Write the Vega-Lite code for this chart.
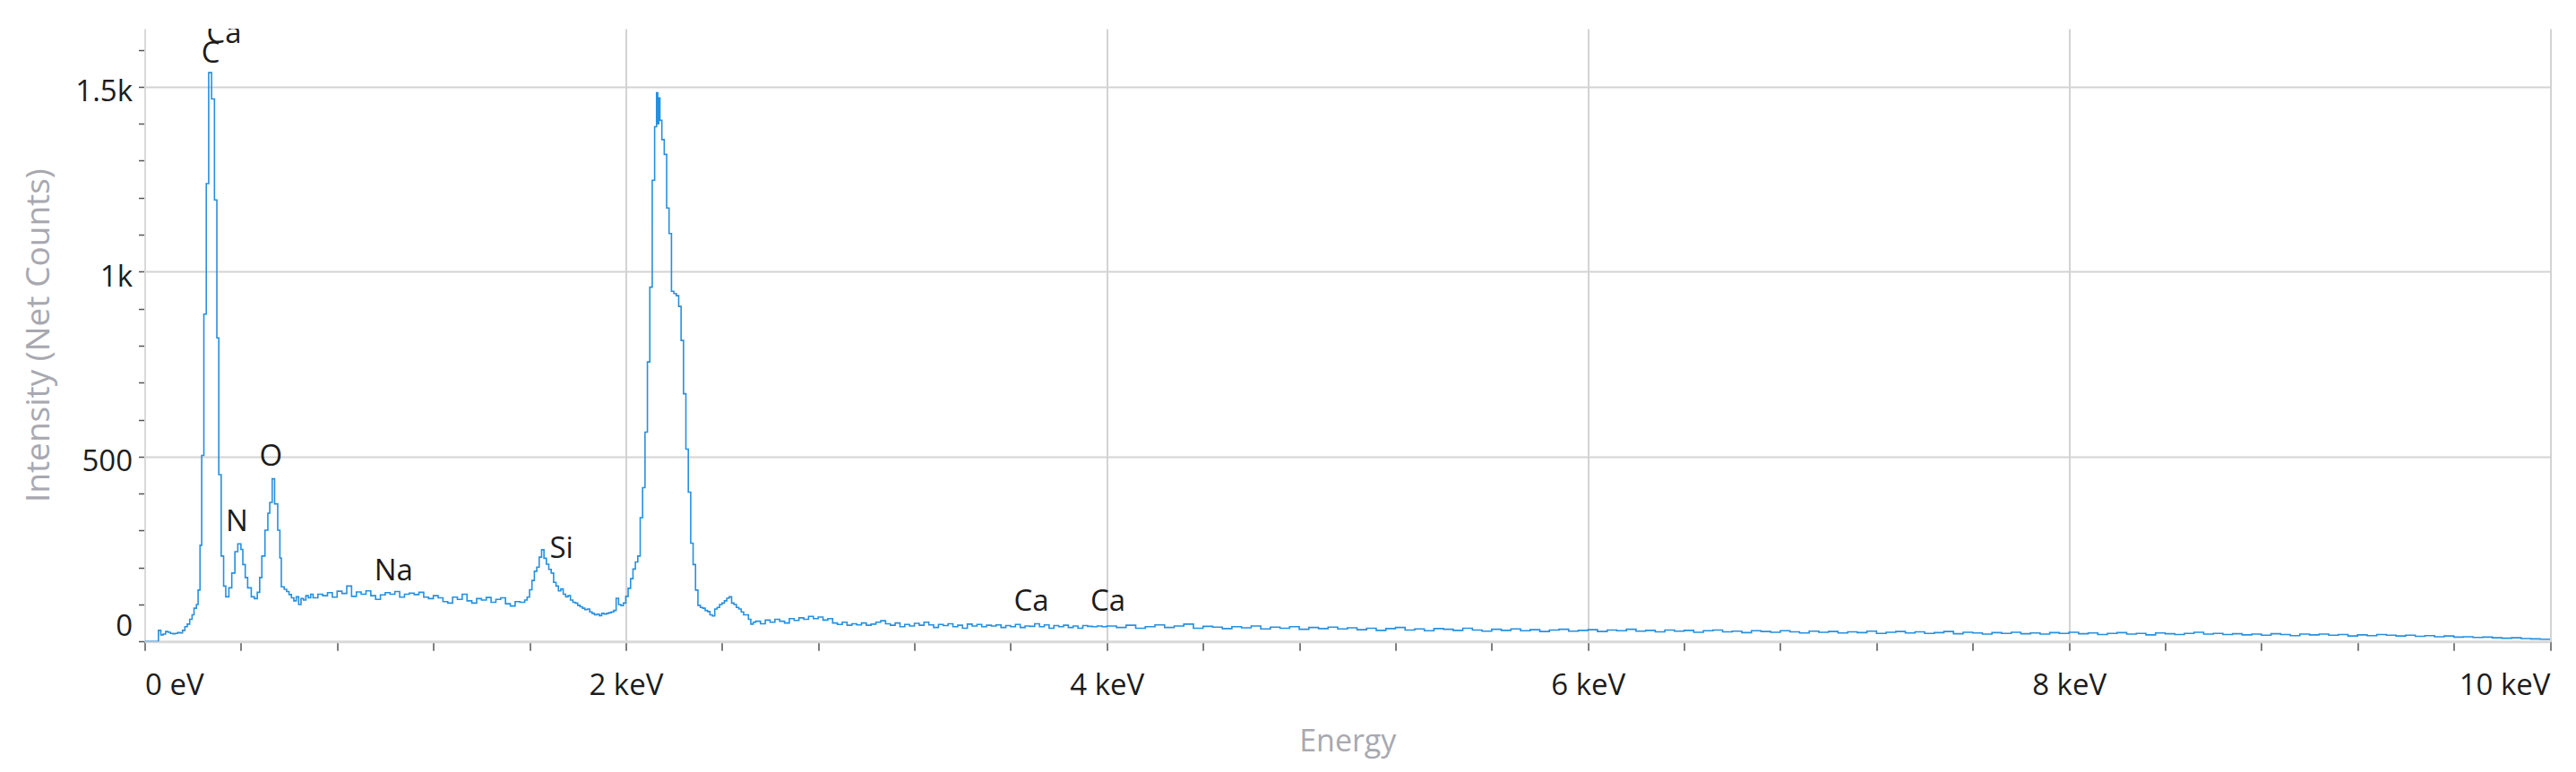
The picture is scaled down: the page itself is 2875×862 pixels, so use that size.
{
  "$schema": "https://vega.github.io/schema/vega-lite/v6.json",
  "width": 2684.5,
  "height": 684.3,
  "autosize": {"type": "none"},
  "padding": {"left": 161.5, "top": 32, "right": 29, "bottom": 146},
  "background": "white",
  "config": {"view": {"stroke": null}, "font": "Open Sans"},
  "datasets": {
    "spectrum": [
      {"e":0,"c":0},{"e":0.057,"c":30},{"e":0.067,"c":18},{"e":0.077,"c":20},{"e":0.087,"c":27},{"e":0.097,"c":25},{"e":0.107,"c":22},{"e":0.117,"c":21},{"e":0.127,"c":22},{"e":0.137,"c":24},{"e":0.147,"c":23},{"e":0.157,"c":30},{"e":0.167,"c":40},{"e":0.177,"c":47},{"e":0.187,"c":60},{"e":0.197,"c":72},{"e":0.205,"c":90},{"e":0.215,"c":100},{"e":0.222,"c":139},{"e":0.23,"c":260},{"e":0.237,"c":503},{"e":0.246,"c":885},{"e":0.256,"c":1238},{"e":0.266,"c":1538},{"e":0.278,"c":1467},{"e":0.29,"c":1194},{"e":0.3,"c":821},{"e":0.308,"c":451},{"e":0.318,"c":231},{"e":0.328,"c":150},{"e":0.337,"c":121},{"e":0.35,"c":145},{"e":0.362,"c":185},{"e":0.375,"c":243},{"e":0.387,"c":264},{"e":0.4,"c":249},{"e":0.408,"c":208},{"e":0.418,"c":173},{"e":0.428,"c":145},{"e":0.443,"c":121},{"e":0.456,"c":116},{"e":0.468,"c":133},{"e":0.478,"c":173},{"e":0.487,"c":231},{"e":0.5,"c":301},{"e":0.512,"c":347},{"e":0.52,"c":376},{"e":0.53,"c":440},{"e":0.54,"c":372},{"e":0.553,"c":301},{"e":0.562,"c":226},{"e":0.568,"c":148},{"e":0.58,"c":141},{"e":0.59,"c":135},{"e":0.6,"c":127},{"e":0.61,"c":118},{"e":0.62,"c":110},{"e":0.63,"c":121},{"e":0.64,"c":100},{"e":0.65,"c":116},{"e":0.66,"c":112},{"e":0.67,"c":124},{"e":0.68,"c":118},{"e":0.69,"c":128},{"e":0.7,"c":118},
      {"e":0.72,"c":128},{"e":0.74,"c":124},{"e":0.76,"c":132},{"e":0.78,"c":120},{"e":0.8,"c":136},{"e":0.82,"c":130},{"e":0.84,"c":150},{"e":0.86,"c":122},{"e":0.88,"c":134},{"e":0.9,"c":128},{"e":0.92,"c":137},{"e":0.94,"c":124},{"e":0.96,"c":114},{"e":0.98,"c":126},{"e":1.0,"c":132},{"e":1.02,"c":128},{"e":1.04,"c":135},{"e":1.06,"c":120},{"e":1.08,"c":128},{"e":1.1,"c":131},{"e":1.12,"c":127},{"e":1.14,"c":133},{"e":1.16,"c":120},{"e":1.18,"c":116},{"e":1.2,"c":124},{"e":1.22,"c":118},{"e":1.24,"c":108},{"e":1.26,"c":104},{"e":1.28,"c":120},{"e":1.3,"c":114},{"e":1.32,"c":128},{"e":1.34,"c":110},{"e":1.36,"c":104},{"e":1.38,"c":116},{"e":1.4,"c":112},{"e":1.42,"c":119},{"e":1.44,"c":106},{"e":1.46,"c":114},{"e":1.48,"c":118},{"e":1.5,"c":102},{"e":1.52,"c":96},{"e":1.54,"c":108},{"e":1.56,"c":106},{"e":1.58,"c":112},{"e":1.59,"c":120},
      {"e":1.6,"c":140},{"e":1.61,"c":165},{"e":1.62,"c":190},{"e":1.63,"c":201},{"e":1.64,"c":228},{"e":1.65,"c":248},{"e":1.66,"c":225},{"e":1.67,"c":209},{"e":1.68,"c":195},{"e":1.69,"c":185},{"e":1.7,"c":160},{"e":1.71,"c":150},{"e":1.72,"c":137},{"e":1.73,"c":142},{"e":1.74,"c":128},{"e":1.75,"c":121},{"e":1.76,"c":124},{"e":1.77,"c":112},{"e":1.78,"c":106},{"e":1.79,"c":104},{"e":1.8,"c":98},{"e":1.81,"c":94},{"e":1.82,"c":90},{"e":1.83,"c":86},{"e":1.84,"c":88},{"e":1.85,"c":80},{"e":1.86,"c":76},{"e":1.87,"c":72},{"e":1.88,"c":74},{"e":1.89,"c":70},{"e":1.9,"c":76},{"e":1.91,"c":74},{"e":1.92,"c":76},{"e":1.93,"c":78},{"e":1.94,"c":80},{"e":1.95,"c":84},{"e":1.96,"c":117},{"e":1.97,"c":100},{"e":1.98,"c":97},{"e":1.99,"c":104},{"e":2.0,"c":122},{"e":2.01,"c":144},{"e":2.02,"c":170},{"e":2.03,"c":196},{"e":2.04,"c":215},{"e":2.05,"c":231},{"e":2.06,"c":335},{"e":2.07,"c":416},{"e":2.08,"c":566},{"e":2.09,"c":756},{"e":2.1,"c":958},{"e":2.11,"c":1247},{"e":2.12,"c":1392},{"e":2.128,"c":1484},{"e":2.133,"c":1400},{"e":2.137,"c":1470},{"e":2.142,"c":1409},{"e":2.15,"c":1357},{"e":2.16,"c":1317},{"e":2.17,"c":1172},{"e":2.18,"c":1103},{"e":2.19,"c":947},{"e":2.2,"c":941},{"e":2.21,"c":935},{"e":2.22,"c":906},{"e":2.23,"c":814},{"e":2.24,"c":670},{"e":2.25,"c":520},{"e":2.26,"c":404},{"e":2.27,"c":266},{"e":2.28,"c":208},{"e":2.29,"c":139},{"e":2.3,"c":98},{"e":2.31,"c":92},{"e":2.32,"c":90},{"e":2.33,"c":84},{"e":2.34,"c":81},{"e":2.35,"c":72},{"e":2.36,"c":69},{"e":2.37,"c":88},{"e":2.38,"c":92},{"e":2.39,"c":100},{"e":2.4,"c":104},{"e":2.41,"c":110},{"e":2.42,"c":117},{"e":2.43,"c":121},{"e":2.44,"c":104},{"e":2.45,"c":100},{"e":2.46,"c":92},{"e":2.47,"c":88},{"e":2.48,"c":80},{"e":2.49,"c":72},{"e":2.5,"c":72},{"e":2.51,"c":60},{"e":2.52,"c":47},{"e":2.53,"c":52},
      {"e":2.54,"c":55},{"e":2.56,"c":48},{"e":2.58,"c":58},{"e":2.6,"c":52},{"e":2.62,"c":60},{"e":2.64,"c":55},{"e":2.66,"c":50},{"e":2.68,"c":62},{"e":2.7,"c":57},{"e":2.72,"c":64},{"e":2.74,"c":60},{"e":2.76,"c":68},{"e":2.78,"c":62},{"e":2.8,"c":66},{"e":2.82,"c":58},{"e":2.84,"c":62},{"e":2.86,"c":50},{"e":2.88,"c":46},{"e":2.9,"c":52},{"e":2.92,"c":44},{"e":2.94,"c":48},{"e":2.96,"c":45},{"e":2.98,"c":50},{"e":3.0,"c":44},{"e":3.02,"c":47},{"e":3.04,"c":52},{"e":3.06,"c":56},{"e":3.08,"c":48},{"e":3.1,"c":44},{"e":3.12,"c":50},{"e":3.14,"c":40},{"e":3.16,"c":46},{"e":3.18,"c":42},{"e":3.2,"c":49},{"e":3.22,"c":44},{"e":3.24,"c":52},{"e":3.26,"c":45},{"e":3.28,"c":38},{"e":3.3,"c":46},{"e":3.32,"c":43},{"e":3.34,"c":48},{"e":3.36,"c":40},{"e":3.38,"c":44},{"e":3.4,"c":36},{"e":3.42,"c":47},{"e":3.44,"c":42},{"e":3.46,"c":46},{"e":3.48,"c":40},{"e":3.5,"c":44},{"e":3.52,"c":42},{"e":3.54,"c":45},{"e":3.56,"c":38},{"e":3.58,"c":43},{"e":3.6,"c":40},{"e":3.62,"c":46},{"e":3.64,"c":38},{"e":3.66,"c":42},{"e":3.68,"c":41},{"e":3.7,"c":48},{"e":3.72,"c":40},{"e":3.74,"c":45},{"e":3.76,"c":36},{"e":3.78,"c":43},{"e":3.8,"c":40},{"e":3.82,"c":44},{"e":3.84,"c":38},{"e":3.86,"c":42},{"e":3.88,"c":36},{"e":3.9,"c":43},{"e":3.92,"c":41},{"e":3.94,"c":40},{"e":3.96,"c":42},{"e":3.98,"c":40},
      {"e":4.0,"c":42},{"e":4.04,"c":38},{"e":4.08,"c":44},{"e":4.12,"c":36},{"e":4.16,"c":40},{"e":4.2,"c":45},{"e":4.24,"c":38},{"e":4.28,"c":42},{"e":4.32,"c":47},{"e":4.36,"c":36},{"e":4.4,"c":41},{"e":4.44,"c":39},{"e":4.48,"c":35},{"e":4.52,"c":40},{"e":4.56,"c":37},{"e":4.6,"c":42},{"e":4.64,"c":34},{"e":4.68,"c":39},{"e":4.72,"c":36},{"e":4.76,"c":40},{"e":4.8,"c":33},{"e":4.84,"c":38},{"e":4.88,"c":35},{"e":4.92,"c":39},{"e":4.96,"c":34},{"e":5.0,"c":37},{"e":5.04,"c":32},{"e":5.08,"c":36},{"e":5.12,"c":30},{"e":5.16,"c":35},{"e":5.2,"c":38},{"e":5.24,"c":31},{"e":5.28,"c":34},{"e":5.32,"c":29},{"e":5.36,"c":35},{"e":5.4,"c":33},{"e":5.44,"c":30},{"e":5.48,"c":36},{"e":5.52,"c":31},{"e":5.56,"c":28},{"e":5.6,"c":33},{"e":5.64,"c":30},{"e":5.68,"c":34},{"e":5.72,"c":29},{"e":5.76,"c":32},{"e":5.8,"c":27},{"e":5.84,"c":31},{"e":5.88,"c":33},{"e":5.92,"c":28},{"e":5.96,"c":30},{"e":6.0,"c":32},{"e":6.04,"c":27},{"e":6.08,"c":31},{"e":6.12,"c":29},{"e":6.16,"c":33},{"e":6.2,"c":28},{"e":6.24,"c":30},{"e":6.28,"c":26},{"e":6.32,"c":31},{"e":6.36,"c":28},{"e":6.4,"c":30},{"e":6.44,"c":25},{"e":6.48,"c":29},{"e":6.52,"c":31},{"e":6.56,"c":26},{"e":6.6,"c":28},{"e":6.64,"c":24},{"e":6.68,"c":29},{"e":6.72,"c":27},{"e":6.76,"c":25},{"e":6.8,"c":29},{"e":6.84,"c":26},{"e":6.88,"c":23},{"e":6.92,"c":28},{"e":6.96,"c":25},{"e":7.0,"c":27},{"e":7.04,"c":23},{"e":7.08,"c":26},{"e":7.12,"c":24},{"e":7.16,"c":28},{"e":7.2,"c":22},{"e":7.24,"c":25},{"e":7.28,"c":27},{"e":7.32,"c":23},{"e":7.36,"c":26},{"e":7.4,"c":22},{"e":7.44,"c":24},{"e":7.48,"c":27},{"e":7.52,"c":21},{"e":7.56,"c":25},{"e":7.6,"c":23},{"e":7.64,"c":20},{"e":7.68,"c":24},{"e":7.72,"c":22},{"e":7.76,"c":25},{"e":7.8,"c":21},{"e":7.84,"c":23},{"e":7.88,"c":20},{"e":7.92,"c":24},{"e":7.96,"c":22},{"e":8.0,"c":25},{"e":8.04,"c":21},{"e":8.08,"c":23},{"e":8.12,"c":19},{"e":8.16,"c":22},{"e":8.2,"c":24},{"e":8.24,"c":20},{"e":8.28,"c":22},{"e":8.32,"c":18},{"e":8.36,"c":23},{"e":8.4,"c":21},{"e":8.44,"c":19},{"e":8.48,"c":22},{"e":8.52,"c":25},{"e":8.56,"c":20},{"e":8.6,"c":22},{"e":8.64,"c":19},{"e":8.68,"c":21},{"e":8.72,"c":18},{"e":8.76,"c":20},{"e":8.8,"c":17},{"e":8.84,"c":21},{"e":8.88,"c":19},{"e":8.92,"c":16},{"e":8.96,"c":20},{"e":9.0,"c":18},{"e":9.04,"c":20},{"e":9.08,"c":17},{"e":9.12,"c":19},{"e":9.16,"c":15},{"e":9.2,"c":18},{"e":9.24,"c":16},{"e":9.28,"c":19},{"e":9.32,"c":17},{"e":9.36,"c":15},{"e":9.4,"c":17},{"e":9.44,"c":14},{"e":9.48,"c":16},{"e":9.52,"c":13},{"e":9.56,"c":15},{"e":9.6,"c":12},{"e":9.64,"c":13},{"e":9.68,"c":11},{"e":9.72,"c":12},{"e":9.76,"c":10},{"e":9.8,"c":9},{"e":9.84,"c":10},{"e":9.88,"c":8},{"e":9.92,"c":7},{"e":9.96,"c":6},{"e":10.0,"c":5}
    ],
    "labels": [
      {"e":0.274,"c":1589,"el":"C"},
      {"e":0.33,"c":1642,"el":"Ca"},
      {"e":0.383,"c":323,"el":"N"},
      {"e":0.525,"c":500,"el":"O"},
      {"e":1.035,"c":190,"el":"Na"},
      {"e":1.733,"c":251,"el":"Si"},
      {"e":3.686,"c":107,"el":"Ca"},
      {"e":4.005,"c":107,"el":"Ca"}
    ]
  },
  "encoding": {
    "x": {
      "field": "e", "type": "quantitative",
      "scale": {"domain": [0, 10], "nice": false, "zero": false},
      "axis": {
        "title": "Energy",
        "values": [0,0.4,0.8,1.2,1.6,2,2.4,2.8,3.2,3.6,4,4.4,4.8,5.2,5.6,6,6.4,6.8,7.2,7.6,8,8.4,8.8,9.2,9.6,10],
        "labelExpr": "datum.value % 2 == 0 ? (datum.value == 0 ? '0 eV' : datum.value + ' keV') : ''",
        "labelFlush": true, "labelOverlap": false,
        "labelBaseline": "alphabetic", "labelPadding": 49,
        "labelFontSize": 33, "labelColor": "#1c1c1c", "labelFont": "Open Sans",
        "tickSize": 10, "tickColor": "#555555", "tickWidth": 1.5,
        "domainColor": "#d9d9d9", "domainWidth": 3,
        "grid": true, "gridColor": "#d3d3d3", "gridWidth": 2,
        "gridOpacity": {"condition": {"test": "datum.value % 2 == 0 && datum.value > 0", "value": 1}, "value": 0},
        "titleFontSize": 34, "titleColor": "#a8a8b0", "titleFontWeight": "normal", "titleFont": "Open Sans",
        "titleBaseline": "alphabetic", "titleY": 122
      }
    },
    "y": {
      "field": "c", "type": "quantitative",
      "scale": {"domain": [0, 1657], "nice": false},
      "axis": {
        "title": "Intensity (Net Counts)",
        "values": [0,100,200,300,400,500,600,700,800,900,1000,1100,1200,1300,1400,1500,1600],
        "labelExpr": "datum.value % 500 == 0 ? (datum.value >= 1000 ? format(datum.value/1000, '~g') + 'k' : format(datum.value, 'd')) : ''",
        "labelFlush": true, "labelOverlap": false,
        "labelOffset": {"condition": {"test": "datum.value == 0", "value": 0}, "value": 6},
        "labelPadding": 7,
        "labelFontSize": 33, "labelColor": "#1c1c1c", "labelFont": "Open Sans",
        "tickSize": 7, "tickColor": "#555555", "tickWidth": 1.5,
        "domainColor": "#d9d9d9", "domainWidth": 2,
        "grid": true, "gridColor": "#d3d3d3", "gridWidth": 2,
        "gridOpacity": {"condition": {"test": "datum.value % 500 == 0 && datum.value > 0", "value": 1}, "value": 0},
        "titleFontSize": 37, "titleColor": "#a8a8b0", "titleFontWeight": "normal", "titleFont": "Open Sans",
        "titleBaseline": "alphabetic", "titleX": -107
      }
    }
  },
  "layer": [
    {
      "data": {"name": "spectrum"},
      "mark": {"type": "line", "interpolate": "step-after", "color": "#2590e0", "strokeWidth": 1.6, "clip": true}
    },
    {
      "data": {"name": "labels"},
      "mark": {"type": "text", "fontSize": 33, "font": "Open Sans", "color": "#1c1c1c", "clip": true, "baseline": "middle", "align": "center"},
      "encoding": {"text": {"field": "el", "type": "nominal"}}
    }
  ]
}
